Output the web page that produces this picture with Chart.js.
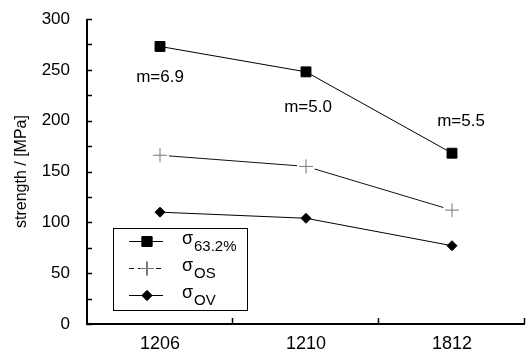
<!DOCTYPE html>
<html>
<head>
<meta charset="utf-8">
<script src="https://cdn.jsdelivr.net/npm/chart.js@4.4.0/dist/chart.umd.min.js"></script>
<style>
	html, body { margin: 0; padding: 0; background: #fff; overflow: hidden; }
	canvas { display: block; }
</style>
</head>
<body>
<canvas id="chart_strength" width="527" height="360"></canvas>
<script>
// --- data ---
var sizes = ['1206', '1210', '1812'];
var sigma632 = [273, 248, 168];
var sigmaOS = [166, 155, 112];
var sigmaOV = [110, 104, 77];
var weibullM = ['m=6.9', 'm=5.0', 'm=5.5'];
var weibullMAt = [243, 213, 199];      // y (MPa) where each m label sits
var legendSubs = ['63.2%', 'OS', 'OV'];
var yTicks = [0, 50, 100, 150, 200, 250, 300];

var FONT = '"Liberation Sans", Arial, sans-serif';

/* =========== axes with inward ticks, annotations, legend ================= */
var figurePlugin = {
	id: 'figure',
	afterDatasetsDraw: function(chart) {
		// the OS line stops short of each cross marker
		var ctx = chart.ctx;
		var meta = chart.getDatasetMeta(1);
		ctx.save();
		meta.data.forEach(function(pt) {
			ctx.fillStyle = '#fff';
			ctx.beginPath();
			ctx.arc(pt.x, pt.y, 9, 0, Math.PI * 2);
			ctx.fill();
			pt.draw(ctx, chart.chartArea);
		});
		ctx.restore();
	},
	afterDraw: function(chart) {
		var ctx = chart.ctx;
		var xs = chart.scales.x, ys = chart.scales.y;
		var area = chart.chartArea;
		ctx.save();
		ctx.strokeStyle = '#000';
		ctx.lineWidth = 2;
		// axis lines
		ctx.beginPath();
		ctx.moveTo(area.left, area.top);
		ctx.lineTo(area.left, area.bottom);
		ctx.lineTo(area.right, area.bottom);
		ctx.stroke();
		// y ticks every 25, pointing in
		ctx.lineWidth = 1.5;
		for (var v = 0; v <= 300; v += 25) {
			var py = Math.round(ys.getPixelForValue(v)) + 0.5;
			ctx.beginPath();
			ctx.moveTo(area.left, py);
			ctx.lineTo(area.left + 5, py);
			ctx.stroke();
		}
		// x ticks at category boundaries
		var n = sizes.length;
		for (var i = 1; i <= n; i++) {
			var px = Math.round(area.left + i * (area.right - area.left) / n) - 0.5;
			ctx.beginPath();
			ctx.moveTo(px, area.bottom);
			ctx.lineTo(px, area.bottom - 6);
			ctx.stroke();
		}

		// m labels
		ctx.fillStyle = '#000';
		ctx.font = '17px ' + FONT;
		ctx.textAlign = 'center';
		ctx.textBaseline = 'middle';
		weibullM.forEach(function(t, k) {
			var nudge = k === 2 ? 9 : (k === 1 ? 2 : 0);
			ctx.fillText(t, xs.getPixelForValue(k) + nudge, ys.getPixelForValue(weibullMAt[k]));
		});

		// legend box
		var bx = 113, by = 228, bw = 134, bh = 82;
		ctx.lineWidth = 1;
		ctx.strokeStyle = '#000';
		ctx.strokeRect(bx + 0.5, by + 0.5, bw, bh);
		chart.data.datasets.forEach(function(ds, k) {
			var ry = by + 13 + k * 27;
			ctx.save();
			ctx.strokeStyle = ds.borderColor;
			ctx.lineWidth = 1;
			if (ds.pointStyle === 'cross') ctx.setLineDash([5, 4]);
			ctx.beginPath();
			ctx.moveTo(bx + 16, ry + 0.5);
			ctx.lineTo(bx + 50, ry + 0.5);
			ctx.stroke();
			ctx.restore();
			Chart.helpers.drawPoint(ctx, {
				pointStyle: ds.pointStyle,
				radius: ds.pointRadius,
				rotation: 0,
				borderWidth: 1
			}, bx + 34, ry + 0.5);
			ctx.fillStyle = ds.pointBackgroundColor;
			ctx.strokeStyle = ds.pointBorderColor;
			ctx.lineWidth = 1;
			if (ds.pointStyle !== 'cross') ctx.fill();
			ctx.stroke();
			ctx.fillStyle = '#000';
			ctx.textAlign = 'left';
			ctx.textBaseline = 'alphabetic';
			ctx.font = '18px ' + FONT;
			ctx.fillText('\u03c3', bx + 69, ry + 3);
			ctx.font = '15px ' + FONT;
			ctx.fillText(legendSubs[k], bx + 81, ry + 10);
		});
		ctx.restore();
	}
};
/* ------------------------------------------------ */

var ctx = document.getElementById('chart_strength');
var chart_strength = new Chart(ctx, {
	type: 'line',
	data: {
		labels: sizes,
		datasets: [{
			label: '\u03c3 63.2%',
			data: sigma632,
			borderColor: '#000',
			borderWidth: 1,
			pointStyle: 'rect',
			pointRadius: 7,
			pointBackgroundColor: '#000',
			pointBorderColor: '#000'
		}, {
			label: '\u03c3 OS',
			data: sigmaOS,
			borderColor: '#111',
			borderWidth: 1,
			pointStyle: 'cross',
			pointRadius: 7,
			pointBackgroundColor: '#777',
			pointBorderColor: '#777',
			pointBorderWidth: 1
		}, {
			label: '\u03c3 OV',
			data: sigmaOV,
			borderColor: '#000',
			borderWidth: 1,
			pointStyle: 'rectRot',
			pointRadius: 5,
			pointBackgroundColor: '#000',
			pointBorderColor: '#000'
		}]
	},
	options: {
		responsive: false,
		devicePixelRatio: 1,
		animation: false,
		layout: { autoPadding: false, padding: { top: 19, right: 2, left: 0, bottom: 0 } },
		plugins: {
			legend: { display: false },
			tooltip: { enabled: false }
		},
		elements: { line: { tension: 0 } },
		scales: {
			x: {
				offset: true,
				grid: { display: false, drawTicks: false },
				border: { display: false },
				ticks: { color: '#000', font: { family: FONT, size: 18 }, padding: 9 },
				afterFit: function(s) { s.height = 36; s.paddingLeft = 0; s.paddingRight = 0; }
			},
			y: {
				min: 0,
				max: 300,
				afterBuildTicks: function(s) { s.ticks = yTicks.map(function(v) { return { value: v }; }); },
				grid: { display: false, drawTicks: false },
				border: { display: false },
				ticks: { color: '#000', font: { family: FONT, size: 17 }, padding: 17 },
				title: {
					display: true,
					text: 'strength / [MPa]',
					color: '#000',
					font: { family: FONT, size: 16 },
					padding: { top: 12, bottom: 0 }
				},
				afterFit: function(s) { s.width = 87; s.paddingTop = 0; s.paddingBottom = 0; }
			}
		}
	},
	plugins: [figurePlugin]
});
</script>
</body>
</html>
